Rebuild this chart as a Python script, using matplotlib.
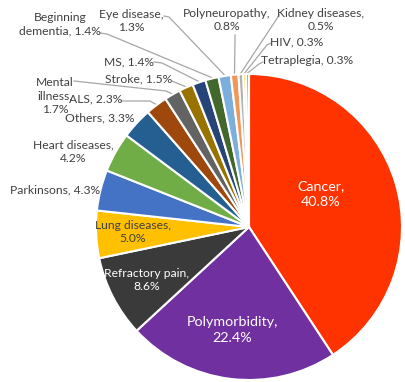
import numpy as np
import matplotlib.pyplot as plt

labels = ['Cancer', 'Polymorbidity', 'Refractory pain', 'Lung diseases', 'Parkinsons',
          'Heart diseases', 'Others', 'ALS', 'Mental illness', 'Stroke', 'MS',
          'Beginning dementia', 'Eye disease', 'Polyneuropathy', 'Kidney diseases',
          'HIV', 'Tetraplegia']
values = [40.8, 22.4, 8.6, 5.0, 4.3, 4.2, 3.3, 2.3, 1.7, 1.5, 1.4, 1.4, 1.3, 0.8, 0.5, 0.3, 0.3]
colors = ['#FF3300', '#7030A0', '#3A3A3A', '#FFC000', '#4472C4', '#70AD47', '#255E91',
          '#9E480E', '#636363', '#997300', '#264478', '#43682B', '#7CAFDD', '#F1975A',
          '#B0B0B0', '#FFCD33', '#5B9BD5']
label_texts = ['Cancer,\n40.8%', 'Polymorbidity,\n22.4%', 'Refractory pain,\n8.6%',
               'Lung diseases,\n5.0%', 'Parkinsons, 4.3%', 'Heart diseases,\n4.2%',
               'Others, 3.3%', 'ALS, 2.3%', 'Mental\nillness,\n1.7%', 'Stroke, 1.5%',
               'MS, 1.4%', 'Beginning\ndementia, 1.4%', 'Eye disease,\n1.3%',
               'Polyneuropathy,\n0.8%', 'Kidney diseases,\n0.5%', 'HIV, 0.3%',
               'Tetraplegia, 0.3%']

W, H = 406, 382
cx, cy, R = 249, 227, 153


def px(x, y):
    return x, H - y


# label centre positions (pixels, y down)
label_pos = [(321, 194), (232, 330), (147, 280), (133, 232), (55, 190), (73, 152),
             (100, 118), (96, 99), (55, 96), (139, 79), (129, 62), (60, 24),
             (131, 21), (227, 20), (321, 20), (297, 42), (307, 60)]
# leader line start points + elbows (pixels)
leaders = {7: [(121, 101), (150, 101)],
           8: [(74, 81), (166, 91)],
           9: [(172, 81), (179, 84)],
           10: [(154, 62), (162, 63)],
           11: [(100, 33), (107, 34)],
           12: [(164, 16), (169, 17)],
           13: [(235, 35), (235, 40)],
           14: [(279, 15), (276, 20)],
           15: [(271, 43), (267, 45)],
           16: [(263, 62), (259, 64)]}
white_text = {0, 1, 2}
big_text = {0, 1}

plt.rcParams['font.family'] = ['Lato', 'DejaVu Sans']
fig = plt.figure(figsize=(W / 100, H / 100), dpi=100)
ax = fig.add_axes([0, 0, 1, 1])

wedges, _ = ax.pie(values, colors=colors, startangle=90, counterclock=False,
                   center=px(cx, cy), radius=R,
                   wedgeprops=dict(edgecolor='white', linewidth=1.5))
ax.set_xlim(0, W)
ax.set_ylim(0, H)
ax.set_aspect('equal')
ax.axis('off')

for i, w in enumerate(wedges):
    x, y = px(*label_pos[i])
    col = 'white' if i in white_text else '#404040'
    fs = 10.3 if i in big_text else 8.7
    ax.text(x, y, label_texts[i], ha='center', va='center', multialignment='center',
            fontsize=fs, color=col, linespacing=1.3)
    if i in leaders:
        mid = np.deg2rad((w.theta1 + w.theta2) / 2)
        ex = cx + (R + 1) * np.cos(mid)
        ey = cy - (R + 1) * np.sin(mid)
        pts = [px(*p) for p in leaders[i]] + [px(ex, ey)]
        ax.plot([p[0] for p in pts], [p[1] for p in pts], color='#A6A6A6', lw=0.9,
                zorder=0.5)

fig.savefig('out.png', dpi=100, facecolor='white')
